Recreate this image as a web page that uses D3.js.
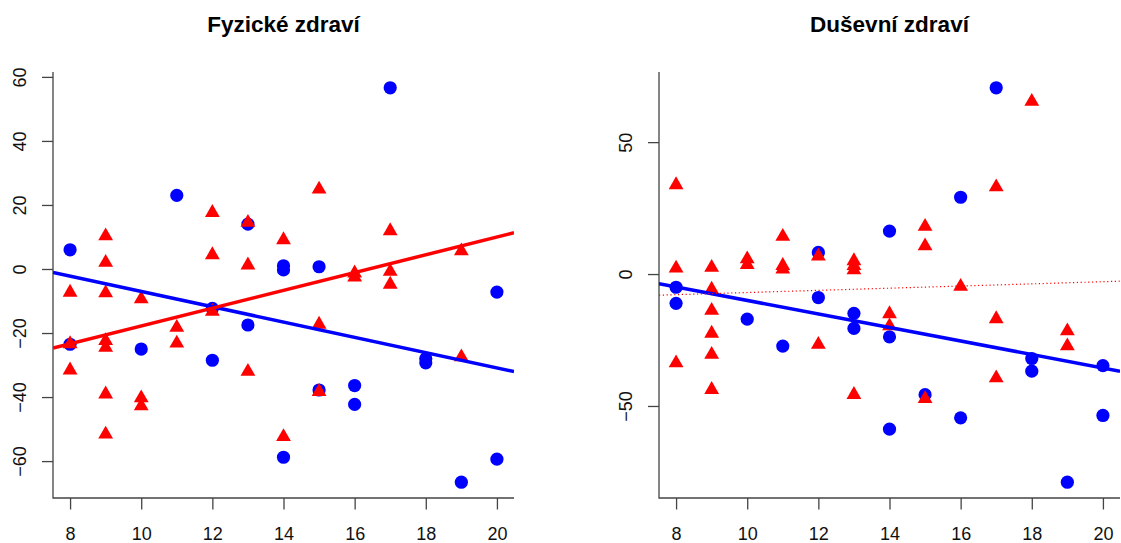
<!DOCTYPE html>
<html>
<head>
<meta charset="utf-8">
<script src="https://cdn.jsdelivr.net/npm/d3@7"></script>
<style>
  body { margin: 0; background: #fff; }
  svg { display: block; font-family: "Liberation Sans", Arial, Helvetica, sans-serif; }
</style>
</head>
<body>
<svg id="chart" width="1121" height="543"></svg>
<script>
// Fyzické zdraví: blue circles (x, y) and red triangles (x, y)
const physBlueX = [8, 8, 10, 11, 12, 12, 13, 13, 14, 14, 14, 15, 15, 16, 16, 17, 18, 18, 19, 20, 20];
const physBlueY = [6, -23.5, -25, 23, -12.3, -28.5, 14, -17.5, 1, -0.3, -58.8, 0.7, -37.8, -36.4, -42.3, 56.6, -28, -29.3, -66.6, -7.2, -59.4];
const physRedX = [8, 8, 8, 9, 9, 9, 9, 9, 9, 9, 10, 10, 10, 11, 11, 12, 12, 12, 13, 13, 13, 14, 14, 15, 15, 15, 16, 16, 17, 17, 17, 19, 19];
const physRedY = [-7.3, -23.4, -31.6, 10.3, 2, -7.5, -22.4, -24.5, -39.1, -51.6, -9.4, -40.3, -42.8, -18.3, -23.2, 17.6, 4.4, -13.3, 14.5, 1.2, -32, 9.1, -52.4, 24.9, -17.3, -38.3, -1.3, -2.6, 11.9, -0.8, -4.8, 5.6, -27.5];

// Duševní zdraví
const mentBlueX = [8, 8, 10, 11, 12, 12, 13, 13, 14, 14, 14, 15, 16, 16, 17, 18, 18, 19, 20, 20];
const mentBlueY = [-5, -11.1, -17.1, -27.3, 8.2, -8.9, -14.9, -20.6, 16.3, -23.8, -58.8, -45.7, 29.1, -54.5, 70.6, -32, -36.8, -78.9, -34.7, -53.6];
const mentRedX = [8, 8, 8, 9, 9, 9, 9, 9, 9, 10, 10, 11, 11, 11, 12, 12, 13, 13, 13, 13, 14, 14, 15, 15, 15, 16, 17, 17, 17, 18, 19, 19];
const mentRedY = [33.8, 2.2, -33.7, 2.5, -5.8, -13.8, -22.5, -30.5, -43.8, 5.7, 3.5, 14.2, 3.2, 1.8, 6.8, -26.7, 5, 3.2, 1.5, -45.7, -15.1, -19.7, 18, 10.6, -47.3, -4.7, 33, -17, -39.4, 65.4, -21.6, -27.3];

// fitted lines: [intercept, slope]
const physBlueFit = [16.9, -2.39];
const physRedFit = [-45.6, 2.78];
const mentBlueFit = [15.6, -2.56];
const mentRedFit = [-11.1, 0.41];

const xTicks = [8, 10, 12, 14, 16, 18, 20];
const physTicks = [-60, -40, -20, 0, 20, 40, 60];
const mentTicks = [-50, 0, 50];

const panels = [
  { title: "Fyzické zdraví", bx: physBlueX, by: physBlueY, rx: physRedX, ry: physRedY, bf: physBlueFit, rf: physRedFit, yTicks: physTicks, left: 53, right: 514, redDotted: false },
  { title: "Duševní zdraví", bx: mentBlueX, by: mentBlueY, rx: mentRedX, ry: mentRedY, bf: mentBlueFit, rf: mentRedFit, yTicks: mentTicks, left: 659, right: 1120, redDotted: true }
];

const plotTop = 72, plotBottom = 498;
const svg = d3.select("#chart");
const axisCol = "#444";

// R-style 4% range extension
function rExtent(vals) {
  const [a, b] = d3.extent(vals);
  const d = b - a;
  return [a - 0.04 * d, b + 0.04 * d];
}

panels.forEach((p, k) => {
  const x = d3.scaleLinear().domain(rExtent(p.bx.concat(p.rx))).range([p.left, p.right]);
  const y = d3.scaleLinear().domain(rExtent(p.by.concat(p.ry))).range([plotBottom, plotTop]);
  const g = svg.append("g");

  g.append("clipPath").attr("id", "clip" + k)
    .append("rect").attr("x", p.left).attr("y", plotTop)
    .attr("width", p.right - p.left).attr("height", plotBottom - plotTop);

  // title
  g.append("text")
    .attr("x", (p.left + p.right) / 2).attr("y", 32)
    .attr("text-anchor", "middle")
    .style("font-size", "22.5px").style("font-weight", "bold")
    .text(p.title);

  // L-shaped box
  g.append("path")
    .attr("d", `M${p.left},${plotTop}V${plotBottom}H${p.right}`)
    .attr("fill", "none").attr("stroke", axisCol).attr("stroke-width", 1.3);

  // x axis
  const xa = g.append("g").attr("transform", `translate(0,${plotBottom})`)
    .call(d3.axisBottom(x).tickValues(xTicks).tickSize(11.5).tickPadding(18).tickFormat(d3.format("d")));
  xa.select(".domain").remove();
  xa.selectAll("line").attr("stroke", axisCol).attr("stroke-width", 1.3);
  xa.selectAll("text").style("font-size", "18px").attr("fill", "#111").attr("font-family", null);

  // y axis
  const ya = g.append("g").attr("transform", `translate(${p.left},0)`)
    .call(d3.axisLeft(y).tickValues(p.yTicks).tickSize(11).tickFormat(d3.format("d")));
  ya.select(".domain").remove();
  ya.selectAll("line").attr("stroke", axisCol).attr("stroke-width", 1.3);
  ya.selectAll("text")
    .attr("x", null).attr("dy", null)
    .attr("text-anchor", "middle")
    .attr("transform", "translate(-27,0) rotate(-90)")
    .style("font-size", "18px").attr("fill", "#111").attr("font-family", null);

  // points
  const blue = d3.zip(p.bx, p.by);
  const red = d3.zip(p.rx, p.ry);
  g.append("g").selectAll("circle").data(blue).join("circle")
    .attr("cx", d => x(d[0])).attr("cy", d => y(d[1])).attr("r", 6.6)
    .attr("fill", "#0000ff");
  const tri = d3.symbol().type(d3.symbolTriangle).size(95);
  g.append("g").selectAll("path").data(red).join("path")
    .attr("transform", d => `translate(${x(d[0])},${y(d[1])})`)
    .attr("d", tri).attr("fill", "#ff0000");

  // regression lines across the whole plot (abline)
  const [x0, x1] = x.domain();
  const lines = g.append("g").attr("clip-path", `url(#clip${k})`);
  lines.append("line")
    .attr("x1", x(x0)).attr("y1", y(p.bf[0] + p.bf[1] * x0))
    .attr("x2", x(x1)).attr("y2", y(p.bf[0] + p.bf[1] * x1))
    .attr("stroke", "#0000ff").attr("stroke-width", 3.5);
  const rl = lines.append("line")
    .attr("x1", x(x0)).attr("y1", y(p.rf[0] + p.rf[1] * x0))
    .attr("x2", x(x1)).attr("y2", y(p.rf[0] + p.rf[1] * x1))
    .attr("stroke", "#ff0000");
  if (p.redDotted) rl.attr("stroke-width", 1.2).attr("stroke-dasharray", "1.2,2.6");
  else rl.attr("stroke-width", 3.5);
});
</script>
</body>
</html>
